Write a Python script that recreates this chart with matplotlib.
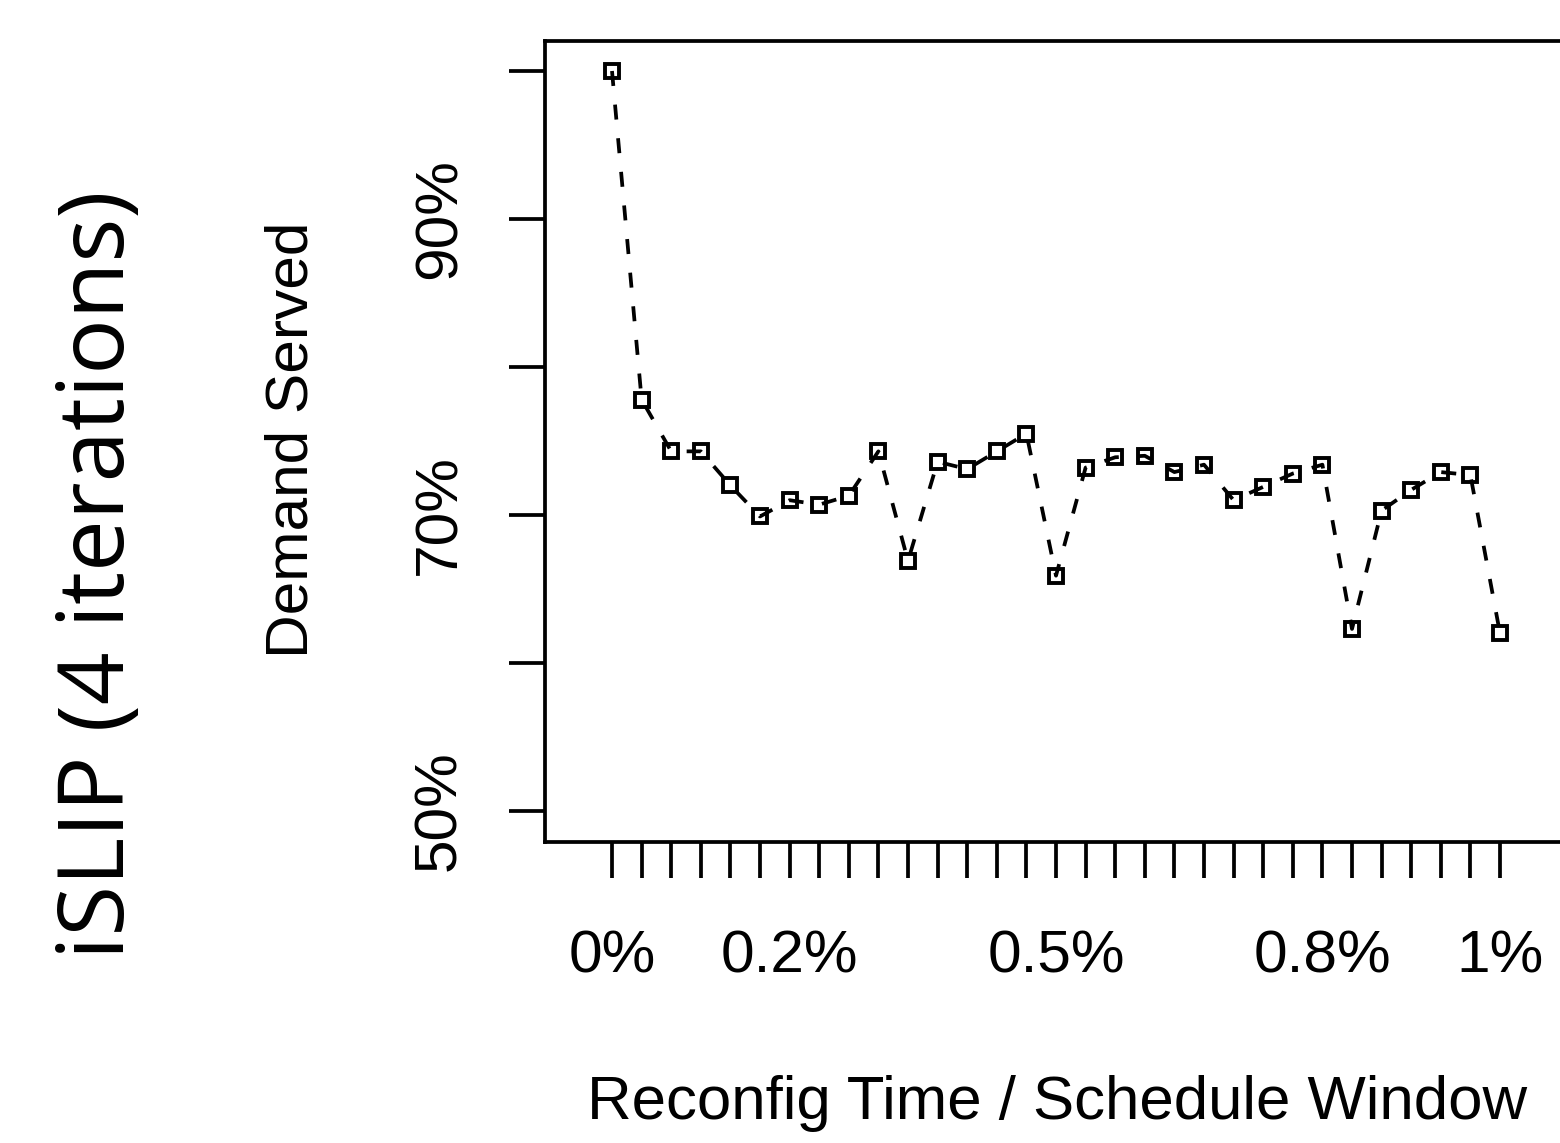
# demand served vs reconfiguration time, iSLIP with 4 iterations

import numpy as np
import matplotlib.pyplot as plt

# fraction of demand served (%) at each reconfig time step (0% .. 1% of window)
served = [100.0, 77.8, 74.3, 74.3, 72.0, 69.9, 71.0, 70.7, 71.3, 74.3,
          66.9, 73.6, 73.1, 74.3, 75.5, 65.9, 73.2, 73.9, 74.0, 72.9,
          73.4, 71.0, 71.9, 72.8, 73.4, 62.3, 70.3, 71.7, 72.9, 72.7, 62.0]
x_labels = {0: "0%", 6: "0.2%", 15: "0.5%", 24: "0.8%", 30: "1%"}
y_ticks = [50, 60, 70, 80, 90, 100]
y_labels = ["50%", "", "70%", "", "90%", ""]

W, H = 1560, 1143
plt.rcParams['font.family'] = ['Liberation Sans', 'DejaVu Sans']

fig = plt.figure(figsize=(W / 100, H / 100), dpi=100)
step = 29.6
x0 = -(612 - 545) / step
x1 = 33.0
ax = fig.add_axes([545 / W, 1 - 842 / H, (x1 - x0) * step / W, (842 - 41) / H])

xs = np.arange(len(served))
ax.plot(xs, served, color="black", linewidth=2.7, dashes=(4, 5),
        marker="s", markersize=10.5, markerfacecolor="none",
        markeredgewidth=2.8, markeredgecolor="black")

ax.set_xlim(x0, x1)
ax.set_ylim(100 - (842 - 71) / 14.8, 100 + 30 / 14.8)

ax.set_xticks(xs)
ax.set_xticklabels([x_labels.get(i, "") for i in xs], fontsize=43.5)
ax.set_yticks(y_ticks)
ax.set_yticklabels(y_labels, fontsize=43.5, rotation=90, va="center")

ax.tick_params(axis="both", direction="out", length=26, width=2.7, color="black")
ax.tick_params(axis="x", pad=37)
ax.tick_params(axis="y", pad=30)
for s in ax.spines.values():
    s.set_linewidth(2.7)

fig.text(292 / W, 1 - 440 / H, "Demand Served", rotation=90, fontsize=43.5,
         ha="center", va="center")
fig.text(1057 / W, 1 - 1103 / H, "Reconfig Time / Schedule Window",
         fontsize=44.5, ha="center", va="center")
fig.text(100 / W, 1 - 575 / H, "iSLIP (4 iterations)", rotation=90,
         fontsize=66.5, ha="center", va="center", family=["Open Sans", "DejaVu Sans"])

fig.savefig("out.png", dpi=100)
